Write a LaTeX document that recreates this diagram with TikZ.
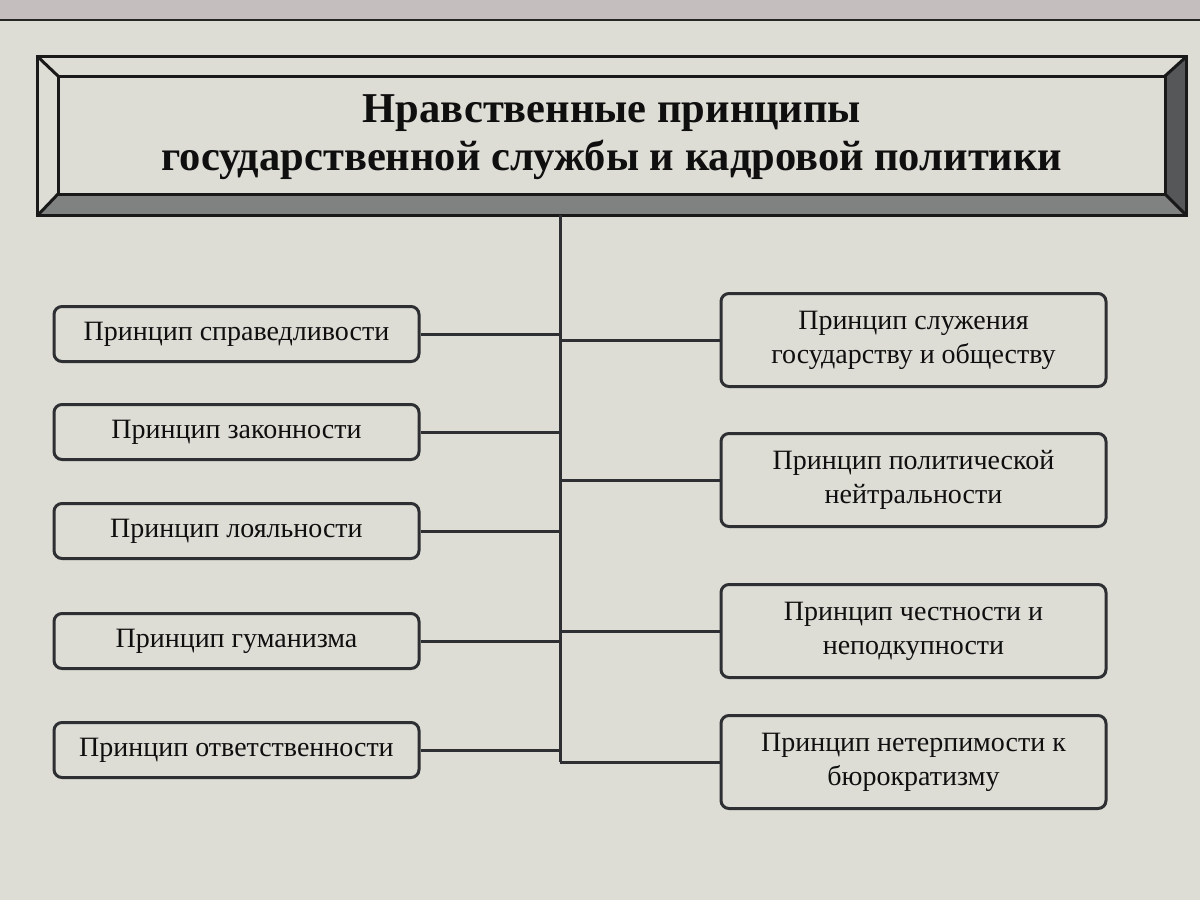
\documentclass[tikz,border=0pt]{standalone}
\usepackage{fontspec}
\setmainfont{Liberation Serif}
\definecolor{bg}{RGB}{221,220,213}
\definecolor{topband}{RGB}{196,190,190}
\definecolor{boxline}{RGB}{45,47,50}
\definecolor{bevelbottom}{RGB}{128,130,130}
\definecolor{bevelright}{RGB}{85,87,88}
\definecolor{txt}{RGB}{15,15,15}
\begin{document}
\begin{tikzpicture}[x=1pt,y=-1pt,
  lbox/.style={draw=boxline, line width=3pt, rounded corners=8pt,
    minimum width=365pt, minimum height=55pt, inner sep=0pt,
    text=txt, font=\fontsize{28}{34}\selectfont},
  rbox/.style={draw=boxline, line width=3pt, rounded corners=8pt,
    minimum width=385pt, minimum height=93pt, inner sep=0pt, align=center,
    text=txt, font=\fontsize{28}{34}\selectfont},
  conn/.style={draw=boxline, line width=3pt},
  frameline/.style={draw=black!90, line width=3pt, line join=miter}]
\useasboundingbox (0,0) rectangle (1200,900);
\fill[bg] (0,0) rectangle (1200,900);
\fill[topband] (0,0) rectangle (1200,20);
\draw[line width=2.5pt, black!85] (0,20) -- (1200,20);

% title frame (bevel)
\node[minimum width=1148pt, minimum height=158pt, inner sep=0pt] (frame) at (612,136) {};
\coordinate (i1) at (58,76);
\coordinate (i2) at (1165,76);
\coordinate (i3) at (1165,194);
\coordinate (i4) at (58,194);
\fill[bevelbottom] (frame.south west) -- (frame.south east) -- (i3) -- (i4) -- cycle;
\fill[bevelright] (frame.north east) -- (frame.south east) -- (i3) -- (i2) -- cycle;
\draw[frameline] (frame.north west) rectangle (frame.south east);
\draw[frameline] (i1) rectangle (i3);
\draw[frameline] (frame.north west) -- (i1);
\draw[frameline] (frame.north east) -- (i2);
\draw[frameline] (frame.south east) -- (i3);
\draw[frameline] (frame.south west) -- (i4);
\node[align=center, text=txt, font=\bfseries\fontsize{42.5}{48}\selectfont] (title) at (612,137)
  {Нравственные принципы\\государственной службы и кадровой политики};

% trunk
\coordinate (ttop) at (560,215);
\coordinate (tbot) at (560,762);
\draw[conn] (ttop) -- (tbot);

% left boxes
\node[lbox] (l1) at (236.5,334) {Принцип справедливости};
\node[lbox] (l2) at (236.5,432) {Принцип законности};
\node[lbox] (l3) at (236.5,531) {Принцип лояльности};
\node[lbox] (l4) at (236.5,641) {Принцип гуманизма};
\node[lbox] (l5) at (236.5,750) {Принцип ответственности};

% right boxes
\node[rbox] (r1) at (913.5,340) {Принцип служения\\государству и обществу};
\node[rbox] (r2) at (913.5,480) {Принцип политической\\нейтральности};
\node[rbox] (r3) at (913.5,631) {Принцип честности и\\неподкупности};
\node[rbox] (r4) at (913.5,762) {Принцип нетерпимости к\\бюрократизму};

% connectors
\foreach \n in {l1,l2,l3,l4,l5} {
  \draw[conn] (\n.east) -- (\n.east -| ttop);
}
\foreach \n in {r1,r2,r3,r4} {
  \draw[conn] (\n.west -| ttop) -- (\n.west);
}
\end{tikzpicture}
\end{document}
